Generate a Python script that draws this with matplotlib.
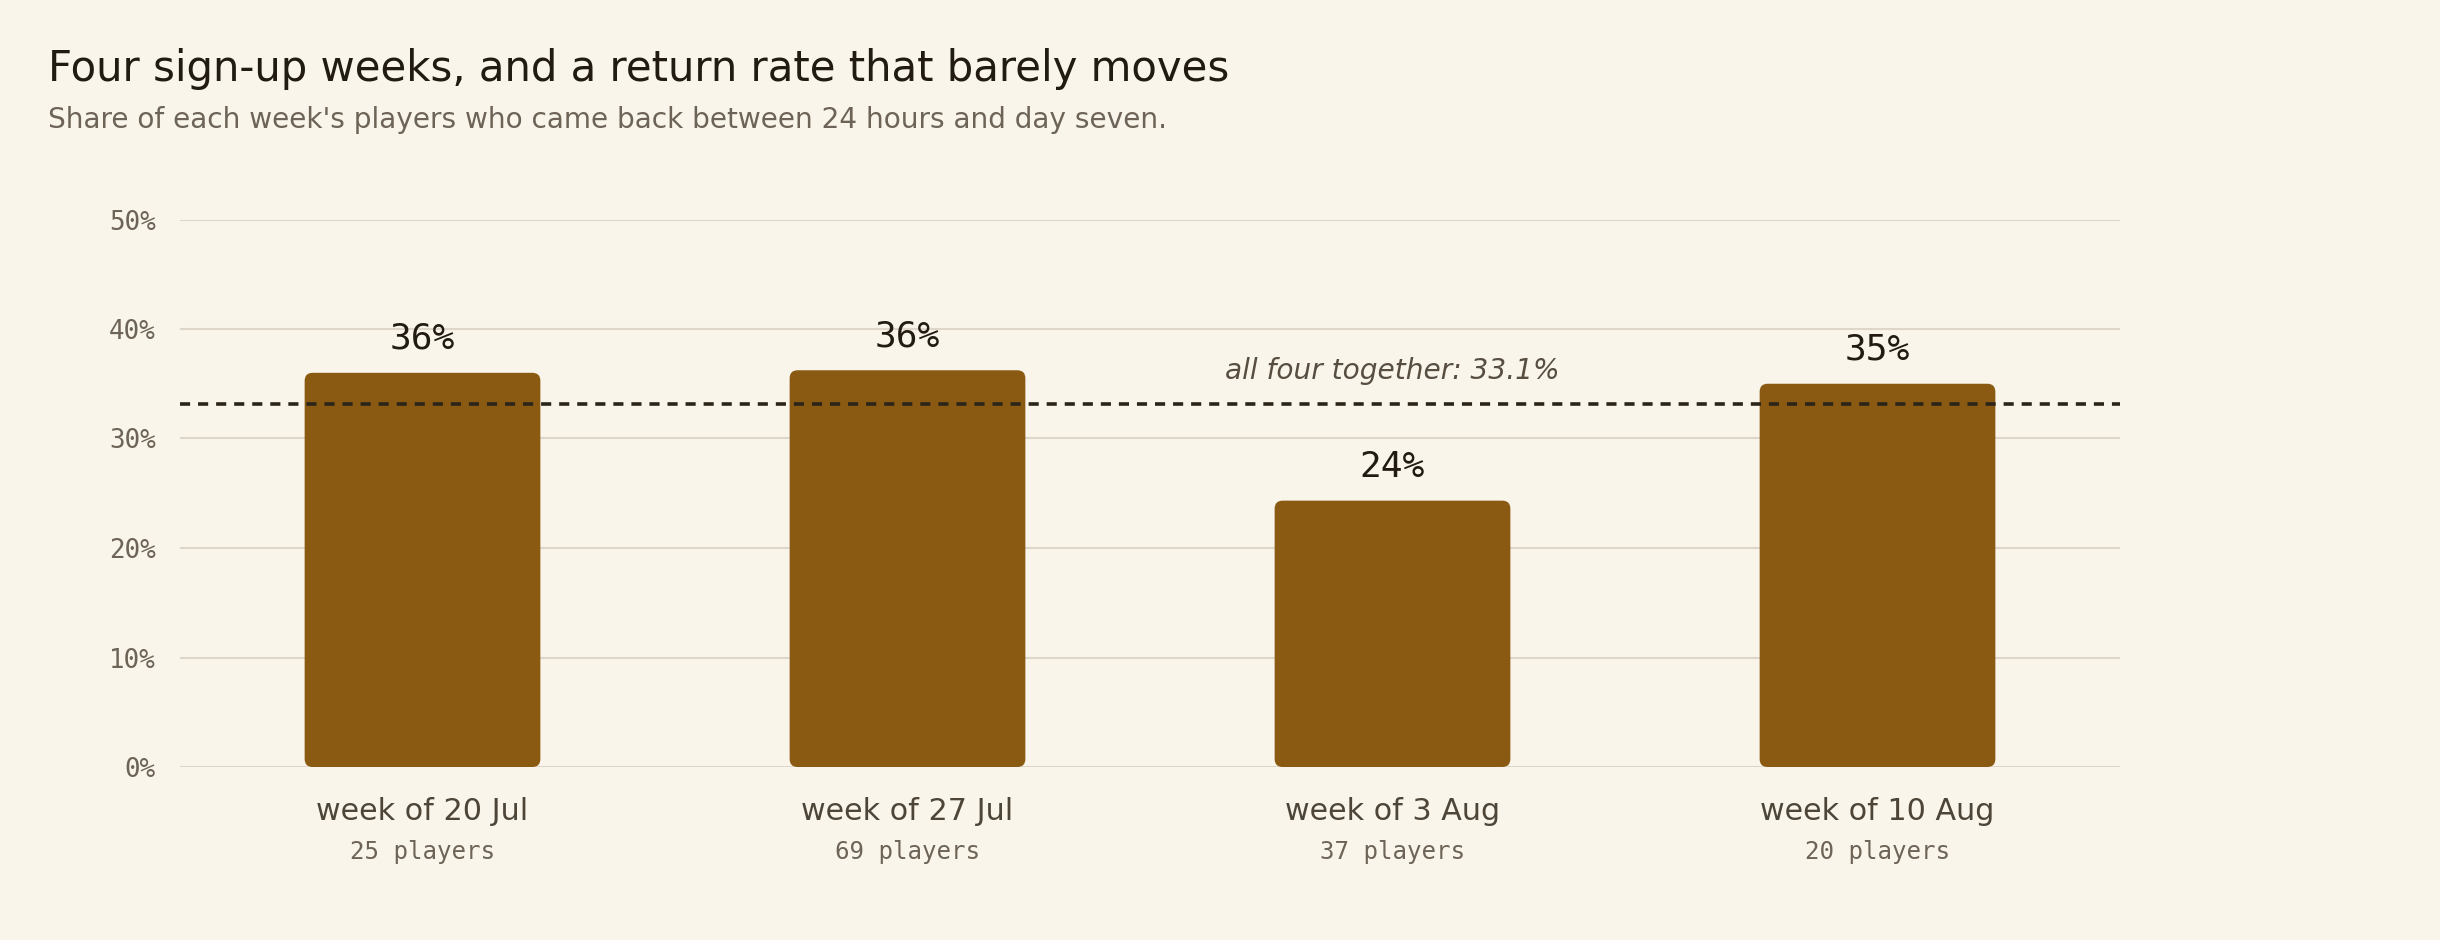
import matplotlib
matplotlib.use("Agg")
import matplotlib.pyplot as plt
from matplotlib.patches import FancyBboxPatch

weeks = ["week of 20 Jul", "week of 27 Jul", "week of 3 Aug", "week of 10 Aug"]
players = [25, 69, 37, 20]
returned = [9, 25, 9, 7]

rates = [100 * r / p for r, p in zip(returned, players)]
overall = 100 * sum(returned) / sum(players)

bg = "#f9f5ea"
bar_color = "#8a5a13"
grid_color = "#ddd6c9"
ink = "#211b12"
muted = "#6d6457"

fig = plt.figure(figsize=(12.2, 4.7), dpi=200, facecolor=bg)
ax = fig.add_axes([180 / 2440, 1 - 767 / 940, 1940 / 2440, 547.5 / 940])
ax.set_facecolor(bg)

x = list(range(len(weeks)))
ax.set_xlim(-0.5, len(weeks) - 0.5)
ax.set_ylim(0, 50)

# aspect ratio so the rounded corners stay round
bw = ax.get_position().width * fig.get_figwidth()
bh = ax.get_position().height * fig.get_figheight()
aspect = (bw / 4) / (bh / 50)

bar_w = 0.486
radius = 8 / (bw * 200 / 4)
for xi, r in zip(x, rates):
    patch = FancyBboxPatch((xi - bar_w / 2, 0), bar_w, r,
                           boxstyle=f"round,pad=0,rounding_size={radius}",
                           mutation_aspect=aspect,
                           facecolor=bar_color, edgecolor="none", zorder=2)
    ax.add_patch(patch)
    ax.annotate(f"{r:.0f}%", (xi, r), xytext=(0, 8.6), textcoords="offset points",
                ha="center", va="baseline", fontsize=13, family="DejaVu Sans Mono",
                color=ink, zorder=4)

ax.axhline(overall, color="#2a2419", lw=1.3, linestyle=(0, (2.8, 2.2)), zorder=3)
ax.annotate(f"all four together: {overall:.1f}%", (2, overall), xytext=(0, 9.2),
            textcoords="offset points", ha="center", va="baseline",
            fontsize=10.1, style="italic", color="#574e41", zorder=4)

ax.set_yticks(range(0, 51, 10))
ax.set_yticklabels([f"{v}%" for v in range(0, 51, 10)], family="DejaVu Sans Mono",
                   fontsize=9.3, color=muted)
ax.tick_params(axis="y", length=0, pad=8.6)
ax.set_xticks([])
ax.grid(axis="y", color=grid_color, lw=0.75, zorder=0)
ax.set_axisbelow(True)
for s in ax.spines.values():
    s.set_visible(False)

for xi, w, p in zip(x, weeks, players):
    ax.annotate(w, (xi, 0), xycoords=("data", "axes fraction"), xytext=(0, -19.1),
                textcoords="offset points", ha="center", va="baseline",
                fontsize=10.85, color="#4d4538")
    ax.annotate(f"{p} players", (xi, 0), xycoords=("data", "axes fraction"),
                xytext=(0, -33.1), textcoords="offset points", ha="center",
                va="baseline", fontsize=8.7, family="DejaVu Sans Mono", color=muted)

fig.text(0.0195, 1 - 81 / 940, "Four sign-up weeks, and a return rate that barely moves",
         fontsize=15.1, color=ink, va="baseline")
fig.text(0.0195, 1 - 128 / 940,
         "Share of each week's players who came back between 24 hours and day seven.",
         fontsize=10.1, color=muted, va="baseline")

fig.savefig("out.png", dpi=200, facecolor=bg)
